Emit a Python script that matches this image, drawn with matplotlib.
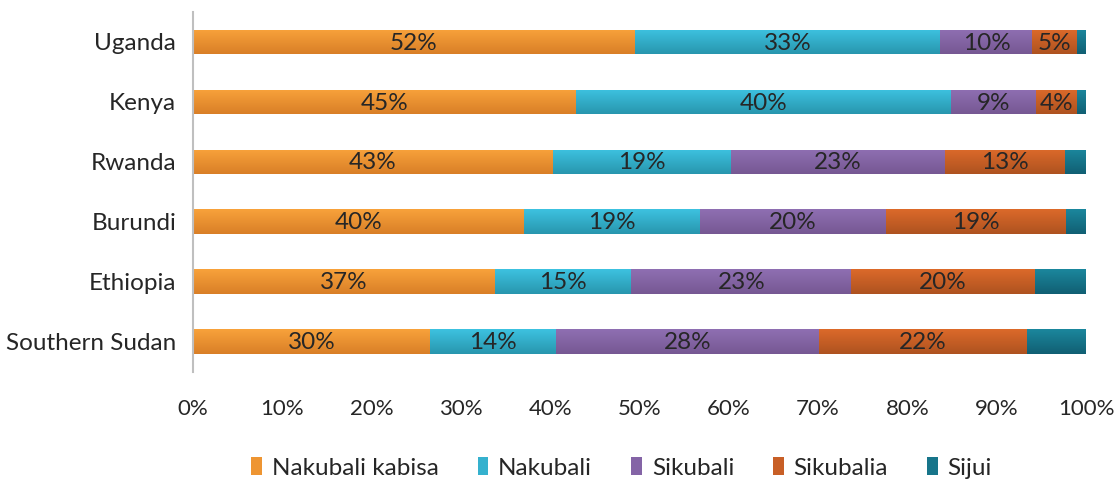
import matplotlib
matplotlib.use("Agg")
import matplotlib.pyplot as plt
import numpy as np
from matplotlib.colors import LinearSegmentedColormap
from matplotlib.patches import Patch

countries = ["Uganda", "Kenya", "Rwanda", "Burundi", "Ethiopia", "Southern Sudan"]
series = ["Nakubali kabisa", "Nakubali", "Sikubali", "Sikubalia", "Sijui"]

# bar widths (share of 100%)
nakubali_kabisa = [49.5, 42.9, 40.3, 37.1, 33.8, 26.5]
nakubali = [34.2, 42.0, 19.9, 19.7, 15.3, 14.2]
sikubali = [10.3, 9.5, 24.0, 20.8, 24.6, 29.4]
sikubalia = [5.0, 4.6, 13.5, 20.2, 20.6, 23.3]
sijui = [1.0, 1.0, 2.3, 2.2, 5.7, 6.6]

# printed data labels
lab_kabisa = ["52%", "45%", "43%", "40%", "37%", "30%"]
lab_nakubali = ["33%", "40%", "19%", "19%", "15%", "14%"]
lab_sikubali = ["10%", "9%", "23%", "20%", "23%", "28%"]
lab_sikubalia = ["5%", "4%", "13%", "19%", "20%", "22%"]
lab_sijui = ["", "", "", "", "", ""]

values = [nakubali_kabisa, nakubali, sikubali, sikubalia, sijui]
labels = [lab_kabisa, lab_nakubali, lab_sikubali, lab_sikubalia, lab_sijui]

top_cols = ["#F8A23B", "#3DC2E0", "#8F6FB2", "#DC6A2A", "#1B879D"]
bot_cols = ["#D97F27", "#2896AE", "#765893", "#AE5220", "#115F73"]
legend_cols = ["#EE9532", "#35B1CE", "#8464A6", "#C85F26", "#17758A"]

plt.rcParams["font.family"] = ["Lato", "DejaVu Sans"]
fig = plt.figure(figsize=(11.18, 4.83), dpi=100)
ax = fig.add_axes([193 / 1118, 1 - 371.5 / 483, 893 / 1118, 359.5 / 483])

y = np.arange(len(countries))
left = np.zeros(len(countries))
h = 0.41
for vals, labs, tc, bc in zip(values, labels, top_cols, bot_cols):
    vals = np.array(vals) / 100.0
    bars = ax.barh(y, vals, left=left, height=h, color=tc, edgecolor="none")
    cmap = LinearSegmentedColormap.from_list("g", [tc, bc])
    grad = np.linspace(0, 1, 64).reshape(-1, 1)
    for b, v, l, lab in zip(bars, vals, left, labs):
        x0, y0 = b.get_x(), b.get_y()
        im = ax.imshow(grad, cmap=cmap, aspect="auto",
                       extent=[x0, x0 + b.get_width(), y0 + b.get_height(), y0],
                       origin="upper", zorder=2, interpolation="bicubic")
        im.set_clip_path(b)
        if lab:
            ax.text(l + v / 2, b.get_y() + b.get_height() / 2 + 0.02, lab,
                    ha="center", va="center", fontsize=17.5, color="#262626", zorder=3)
    left = left + vals

ax.set_xlim(0, 1)
ax.set_ylim(len(countries) - 0.5, -0.5)
ax.set_yticks(y)
ax.set_yticklabels(countries, fontsize=17.5, color="#262626")
ax.set_xticks(np.linspace(0, 1, 11))
ax.set_xticklabels([f"{i}%" for i in range(0, 101, 10)], fontsize=16, color="#262626")
ax.tick_params(axis="both", length=0)
ax.tick_params(axis="x", pad=20)
ax.tick_params(axis="y", pad=12)
for s in ["top", "right", "bottom"]:
    ax.spines[s].set_visible(False)
ax.spines["left"].set_color("#BFBFBF")
ax.spines["left"].set_linewidth(1.5)

handles = [Patch(facecolor=c, edgecolor="none") for c in legend_cols]
fig.legend(handles, series, loc="center", bbox_to_anchor=(0.556, 1 - 468 / 483),
           ncol=5, frameon=False, fontsize=17.5, handlelength=0.45, handleheight=0.75,
           handletextpad=0.4, columnspacing=1.6, labelcolor="#262626")

fig.savefig("out.png", dpi=100)
